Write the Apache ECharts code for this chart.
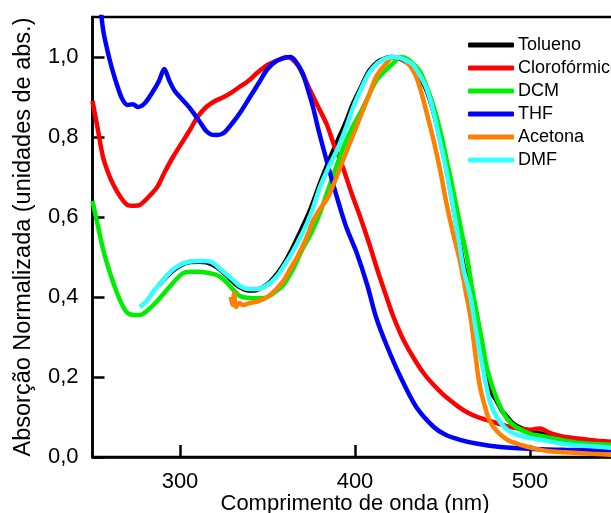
<!DOCTYPE html>
<html>
<head>
<meta charset="utf-8">
<script src="https://cdn.jsdelivr.net/npm/echarts@6/dist/echarts.min.js"></script>
<style>html,body{margin:0;padding:0;background:#fff;}#c{width:611px;height:513px;}</style>
</head>
<body>
<div id="c"></div>
<script>
const seriesNames = ['Tolueno','Clorofórmico','DCM','THF','Acetona','DMF'];
const seriesColors = ['#000000','#ff0000','#00ee00','#0000ff','#ff7f00','#33ffff'];
const xTicks = [300, 400, 500];
const yTicks = [0, 0.2, 0.4, 0.6, 0.8, 1.0];

const tolueno = [[288,0.43],[295,0.462],[300,0.478],[305,0.487],[311,0.488],[315,0.487],[319,0.48],[323,0.468],[327,0.452],[331,0.435],[334,0.425],[339,0.416],[344,0.418],[350,0.432],[355,0.455],[359,0.48],[364,0.52],[370,0.575],[375,0.625],[380,0.685],[385,0.74],[390,0.79],[395,0.84],[399,0.885],[404,0.93],[408,0.965],[413,0.988],[418,0.998],[421,1.0],[426,0.995],[430,0.985],[434,0.97],[437,0.95],[441,0.915],[445,0.86],[448,0.805],[452,0.725],[456,0.63],[459,0.555],[462,0.48],[466,0.41],[469,0.33],[472,0.26],[475,0.2],[478,0.16],[481,0.14],[484,0.115],[487,0.1],[490,0.085],[495,0.072],[502,0.063],[510,0.055],[519,0.048],[530,0.042],[550,0.035]];
const cloroformico = [[250,0.89],[253,0.82],[256,0.75],[259,0.71],[262,0.68],[266,0.65],[270,0.63],[274,0.628],[277,0.63],[282,0.65],[287,0.675],[291,0.71],[296,0.75],[301,0.785],[306,0.82],[310,0.85],[315,0.875],[320,0.89],[325,0.9],[330,0.913],[334,0.925],[339,0.94],[344,0.96],[350,0.98],[355,0.99],[361,1.0],[364,0.995],[368,0.975],[374,0.92],[379,0.875],[384,0.83],[388,0.78],[393,0.725],[398,0.66],[403,0.6],[408,0.535],[413,0.465],[418,0.4],[422,0.35],[428,0.29],[435,0.237],[440,0.205],[445,0.18],[450,0.158],[454,0.143],[459,0.126],[464,0.112],[470,0.1],[475,0.093],[481,0.085],[487,0.077],[495,0.07],[500,0.068],[503,0.07],[506,0.071],[510,0.063],[515,0.055],[520,0.05],[530,0.045],[540,0.04],[550,0.037]];
const dcm = [[250,0.64],[253,0.58],[256,0.52],[260,0.46],[264,0.41],[267,0.38],[270,0.36],[274,0.355],[277,0.355],[281,0.365],[287,0.39],[293,0.42],[298,0.445],[302,0.46],[307,0.463],[311,0.463],[316,0.46],[321,0.455],[325,0.443],[328,0.43],[331,0.415],[334,0.403],[338,0.398],[342,0.397],[346,0.397],[350,0.40],[355,0.415],[359,0.43],[364,0.465],[370,0.52],[375,0.56],[380,0.61],[384,0.66],[388,0.71],[393,0.77],[398,0.82],[403,0.86],[408,0.905],[412,0.94],[417,0.965],[422,0.985],[426,1.0],[430,0.995],[434,0.98],[437,0.965],[441,0.925],[445,0.875],[449,0.81],[452,0.75],[455,0.69],[458,0.625],[461,0.56],[464,0.5],[467,0.42],[470,0.35],[473,0.28],[475,0.23],[479,0.17],[483,0.125],[487,0.095],[492,0.075],[500,0.058],[506,0.053],[515,0.045],[529,0.035],[550,0.03]];
const thf = [[253,1.20],[256,1.07],[260,0.99],[264,0.93],[267,0.895],[270,0.88],[273,0.882],[276,0.875],[280,0.885],[284,0.91],[288,0.94],[291,0.97],[294,0.94],[297,0.915],[301,0.895],[306,0.87],[311,0.84],[315,0.815],[318,0.806],[321,0.805],[325,0.81],[330,0.835],[335,0.865],[340,0.9],[345,0.935],[350,0.97],[355,0.99],[360,0.998],[363,1.0],[366,0.99],[370,0.96],[373,0.92],[376,0.875],[379,0.82],[382,0.77],[387,0.69],[391,0.63],[395,0.575],[401,0.51],[407,0.43],[412,0.35],[418,0.28],[426,0.2],[435,0.125],[445,0.075],[452,0.055],[460,0.043],[470,0.033],[483,0.025],[502,0.02],[520,0.018],[550,0.017]];
const acetona = [[329,0.40],[330,0.38],[331,0.41],[332,0.375],[334,0.385],[336,0.38],[340,0.385],[345,0.39],[350,0.40],[355,0.42],[359,0.44],[363,0.47],[367,0.50],[372,0.545],[376,0.59],[380,0.62],[384,0.645],[389,0.695],[393,0.74],[398,0.795],[403,0.85],[408,0.905],[412,0.95],[417,0.98],[422,1.0],[426,0.997],[430,0.985],[434,0.96],[437,0.925],[441,0.86],[445,0.79],[449,0.71],[452,0.64],[456,0.56],[460,0.49],[463,0.42],[466,0.35],[469,0.25],[471,0.185],[474,0.13],[477,0.09],[481,0.065],[487,0.043],[495,0.03],[502,0.022],[510,0.015],[520,0.012],[535,0.008],[550,0.005]];
const dmf = [[277,0.375],[281,0.39],[285,0.415],[290,0.44],[295,0.465],[300,0.48],[305,0.488],[311,0.49],[315,0.49],[319,0.485],[323,0.47],[327,0.455],[331,0.44],[334,0.428],[339,0.42],[344,0.42],[350,0.43],[355,0.45],[359,0.475],[364,0.51],[370,0.56],[375,0.61],[380,0.675],[385,0.725],[390,0.77],[395,0.825],[399,0.875],[404,0.925],[408,0.96],[413,0.985],[418,0.997],[422,1.0],[426,0.998],[430,0.99],[433,0.982],[437,0.955],[441,0.92],[445,0.86],[448,0.8],[452,0.72],[456,0.625],[459,0.55],[462,0.47],[466,0.4],[469,0.32],[471,0.27],[474,0.2],[477,0.14],[481,0.1],[487,0.068],[495,0.052],[506,0.043],[520,0.032],[535,0.027],[550,0.022]];

const allData = [tolueno, cloroformico, dcm, thf, acetona, dmf];
const FONT = '"Liberation Sans", Arial, sans-serif';

const chart = echarts.init(document.getElementById('c'), null, {renderer: 'canvas'});
chart.setOption({
  animation: false,
  backgroundColor: '#fff',
  grid: {left: 92.5, top: 17, width: 525, height: 440, show: true, borderColor: '#000', borderWidth: 2.5,
    backgroundColor: 'transparent', outerBoundsMode: 'none', containLabel: false},
  legend: {
    orient: 'vertical', left: 463, top: 31, itemWidth: 46, itemHeight: 5, itemGap: 5,
    icon: 'roundRect',
    textStyle: {fontFamily: FONT, fontSize: 18, color: '#000', lineHeight: 18, padding: [0,0,0,-1]},
    data: seriesNames
  },
  xAxis: {
    type: 'value', min: 250, max: 550,
    name: 'Comprimento de onda (nm)', nameLocation: 'middle', nameGap: 36, nameMoveOverlap: false,
    nameTextStyle: {fontFamily: FONT, fontSize: 22, color: '#000'},
    axisLine: {lineStyle: {color: '#000', width: 2.5}},
    axisTick: {inside: true, length: 12, lineStyle: {color: '#000', width: 2.5}, customValues: xTicks},
    axisLabel: {fontFamily: FONT, fontSize: 22, color: '#000', margin: 14, customValues: xTicks},
    splitLine: {show: false}
  },
  yAxis: {
    type: 'value', min: 0, max: 1.1,
    name: 'Absorção Normalizada (unidades de abs.)', nameLocation: 'middle', nameGap: 57, nameMoveOverlap: false,
    nameTextStyle: {fontFamily: FONT, fontSize: 23.5, color: '#000'},
    axisLine: {lineStyle: {color: '#000', width: 2.5}},
    axisTick: {inside: true, length: 12, lineStyle: {color: '#000', width: 2.5}, customValues: yTicks},
    axisLabel: {fontFamily: FONT, fontSize: 22, color: '#000', margin: 14, customValues: yTicks,
      formatter: v => v.toFixed(1).replace('.', ',')},
    splitLine: {show: false}
  },
  series: seriesNames.map((n, i) => ({
    name: n, type: 'line', data: allData[i], showSymbol: false, symbol: 'none',
    smooth: 0.3, clip: true,
    itemStyle: {color: seriesColors[i]},
    lineStyle: {color: seriesColors[i], width: 4.5}
  }))
});
</script>
</body>
</html>
